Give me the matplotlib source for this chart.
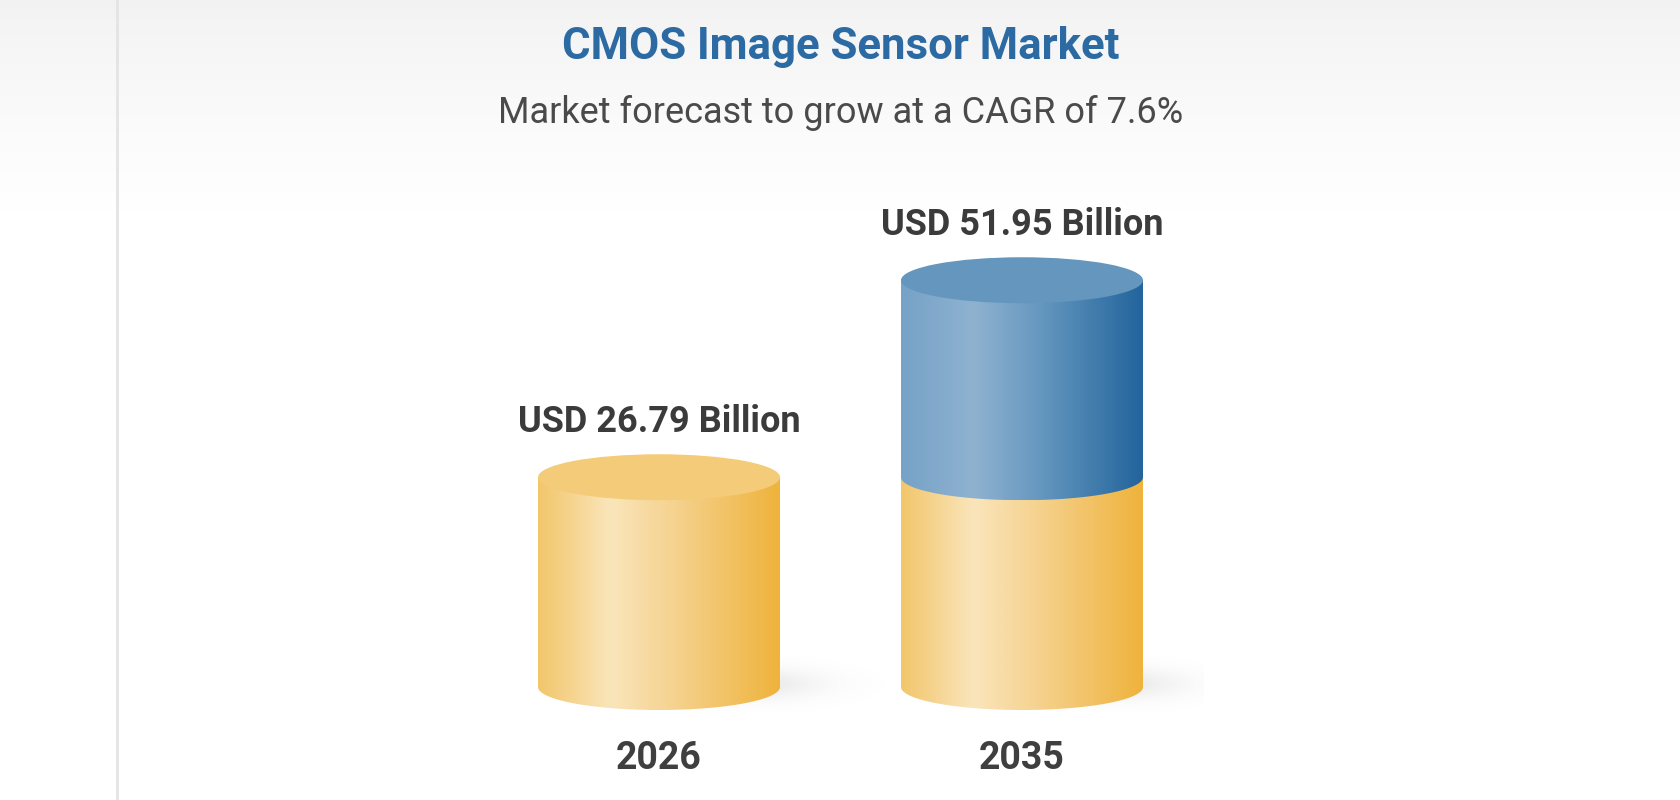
import numpy as np
import matplotlib.pyplot as plt
from matplotlib.patches import Ellipse, PathPatch
from matplotlib.path import Path
from matplotlib.colors import LinearSegmentedColormap

plt.rcParams['font.family'] = ['Roboto', 'DejaVu Sans']

# --- data ---
years = ['2026', '2035']
values = [26.79, 51.95]
value_labels = ['USD 26.79 Billion', 'USD 51.95 Billion']
base_values = [26.79, 26.79]            # yellow part = 2026 level
growth_values = [0.0, 51.95 - 26.79]    # blue part = growth to 2035
title_text = 'CMOS Image Sensor Market'
subtitle_text = 'Market forecast to grow at a CAGR of 7.6%'

W, H, DPI = 1680, 800, 100
fig = plt.figure(figsize=(W / DPI, H / DPI), dpi=DPI)
fig.patch.set_facecolor('white')

# background: light grey at the top fading to white, thin divider on the left
bg = fig.add_axes([0, 0, 1, 1], zorder=0)
bg.axis('off')
t = np.clip(np.arange(H) / 210.0, 0, 1)
col = (242 + 13 * t ** 0.8) / 255.0
shade = np.repeat(col[:, None], 3, axis=1)[:, None, :]
bg.imshow(shade, extent=(0, W, H, 0), aspect='auto', interpolation='bilinear')
bg.axvline(117, color='#e4e4e4', lw=2)
bg.set_xlim(0, W)
bg.set_ylim(H, 0)

# chart axes: x = category index, y = USD billion
ymin, ymax = -8, 62
ppy = 7.83                      # pixels per billion
ax_bottom = 113 + ymin * ppy
ax = fig.add_axes([477.5 / W, ax_bottom / H, 726 / W, (ymax - ymin) * ppy / H], zorder=1)
ax.axis('off')

rx = 0.3333
ppx = 726 / 2.0
ry = 0.19 * rx * ppx / ppy

yellow = LinearSegmentedColormap.from_list(
    'yel', [(0, '#f2c66b'), (0.3, '#fae5bb'), (0.58, '#f5d18c'), (1, '#efb33c')])
blue = LinearSegmentedColormap.from_list(
    'blu', [(0, '#76a2c7'), (0.3, '#8fb2d0'), (0.58, '#6597bf'), (1, '#22649c')])
yellow_top = '#f4cb79'
blue_top = '#6496be'


def body_path(xc, y0, y1):
    th = np.linspace(np.pi, 2 * np.pi, 80)
    xs = np.concatenate([[xc - rx], xc + rx * np.cos(th), [xc + rx], [xc - rx]])
    ys = np.concatenate([[y1], y0 + ry * np.sin(th), [y1], [y1]])
    codes = [Path.MOVETO] + [Path.LINETO] * (len(xs) - 2) + [Path.CLOSEPOLY]
    return Path(np.column_stack([xs, ys]), codes)


def draw_body(xc, y0, y1, cmap, z):
    grad = np.linspace(0, 1, 256)[None, :]
    im = ax.imshow(grad, cmap=cmap, extent=(xc - rx, xc + rx, y0 - ry, y1),
                   aspect='auto', interpolation='bilinear', zorder=z)
    clip = PathPatch(body_path(xc, y0, y1), transform=ax.transData, fc='none', ec='none')
    ax.add_patch(clip)
    im.set_clip_path(clip)


# soft shadow to the right of each base
for i in range(len(years)):
    gx = np.linspace(i - 0.1, i + 0.7, 200)
    gy = np.linspace(-6, 7, 120)
    X, Y = np.meshgrid(gx, gy)
    a = 0.16 * np.exp(-0.5 * ((X - i - 0.24) / 0.14) ** 2 - 0.5 * ((Y - 0.4) / 1.4) ** 2)
    rgba = np.zeros(X.shape + (4,))
    rgba[..., :3] = 0.45
    rgba[..., 3] = a
    ax.imshow(rgba, extent=(gx[0], gx[-1], gy[0], gy[-1]), origin='lower',
              aspect='auto', interpolation='bilinear', zorder=1)

for i in range(len(years)):
    b = base_values[i]
    g = growth_values[i]
    draw_body(i, 0, b, yellow, 2)
    if g > 0:
        draw_body(i, b, b + g, blue, 3)
        ax.add_patch(Ellipse((i, b + g), 2 * rx, 2 * ry, fc=blue_top, ec='none', zorder=4))
    else:
        ax.add_patch(Ellipse((i, b), 2 * rx, 2 * ry, fc=yellow_top, ec='none', zorder=4))

    ax.annotate(value_labels[i], (i, values[i]), xytext=(0, 45), textcoords='offset pixels',
                ha='center', va='baseline', fontsize=26, fontweight='bold',
                color='#3b3b3b', annotation_clip=False)
    ax.annotate(years[i], (i, 0), xytext=(0, -82), textcoords='offset pixels',
                ha='center', va='baseline', fontsize=27, fontweight='bold',
                color='#3f3f3f', annotation_clip=False)

ax.set_xlim(-0.5, 1.5)
ax.set_ylim(ymin, ymax)

fig.text(841 / W, 1 - 59 / H, title_text, ha='center', va='baseline',
         fontsize=31.5, fontweight='bold', color='#2b6aa2')
fig.text(841 / W, 1 - 123 / H, subtitle_text, ha='center', va='baseline',
         fontsize=26, color='#4a4a4a')

fig.savefig('out.png', dpi=DPI)
